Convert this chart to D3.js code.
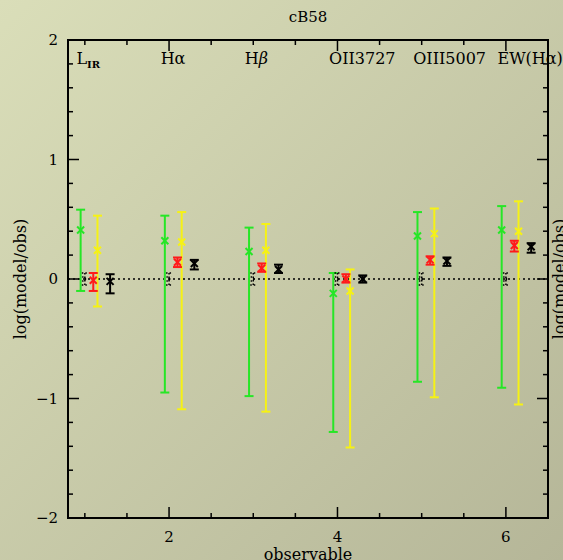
<!DOCTYPE html>
<html lang="en">
<head>
    <meta charset="utf-8">
    <title>cB58</title>
    <style>
        html, body { margin: 0; padding: 0; overflow: hidden; }
        svg { display: block; font-family: "DejaVu Serif", serif; }
    </style>
</head>
<body>
<svg id="chart" width="563" height="560"></svg>
<script src="https://d3js.org/d3.v7.min.js"></script>
<script>
    // observables along x
    const obsX = [1, 2, 3, 4, 5, 6];
    const obsNames = ["L_IR", "Hα", "Hβ", "OII3727", "OIII5007", "EW(Hα)"];
    const xTicks = [2, 4, 6];
    const yTicks = [-2, -1, 0, 1, 2];

    // green series
    const greenVal = [0.41, 0.32, 0.23, -0.12, 0.36, 0.41];
    const greenLo  = [-0.10, -0.95, -0.98, -1.28, -0.86, -0.91];
    const greenHi  = [0.58, 0.53, 0.43, 0.05, 0.56, 0.61];
    // yellow series
    const yellowVal = [0.24, 0.31, 0.24, -0.10, 0.38, 0.40];
    const yellowLo  = [-0.23, -1.09, -1.11, -1.41, -0.99, -1.05];
    const yellowHi  = [0.53, 0.56, 0.46, 0.08, 0.59, 0.65];
    // red series
    const redVal = [-0.01, 0.14, 0.09, 0.00, 0.16, 0.28];
    const redLo  = [-0.10, 0.10, 0.06, -0.03, 0.12, 0.23];
    const redHi  = [0.05, 0.18, 0.13, 0.04, 0.19, 0.32];
    // black series
    const blackVal = [-0.02, 0.13, 0.08, 0.00, 0.15, 0.27];
    const blackLo  = [-0.12, 0.08, 0.05, -0.03, 0.11, 0.22];
    const blackHi  = [0.04, 0.16, 0.12, 0.03, 0.18, 0.30];
    // dotted (reference) series
    const dotVal = [0, 0, 0, 0, 0, 0];
    const dotLo  = [-0.05, -0.05, -0.05, -0.05, -0.05, -0.05];
    const dotHi  = [0.05, 0.05, 0.05, 0.05, 0.05, 0.05];

    const mLeft = 68, mRight = 548, mTop = 40, mBottom = 518;

    const svg = d3.select("#chart");

    // background gradient
    const defs = svg.append("defs");
    const grad = defs.append("linearGradient")
        .attr("id", "bg")
        .attr("x1", "0").attr("y1", "0")
        .attr("x2", "1").attr("y2", "1");
    grad.append("stop").attr("offset", "0").attr("stop-color", "#dadeb9");
    grad.append("stop").attr("offset", "1").attr("stop-color", "#b5b698");
    svg.append("rect").attr("width", 563).attr("height", 560).attr("fill", "url(#bg)");

    const x = d3.scaleLinear().domain([0.8, 6.5]).range([mLeft, mRight]);
    const y = d3.scaleLinear().domain([-2, 2]).range([mBottom, mTop]);

    // frame
    svg.append("rect")
        .attr("x", mLeft).attr("y", mTop)
        .attr("width", mRight - mLeft).attr("height", mBottom - mTop)
        .attr("fill", "none").attr("stroke", "#000").attr("stroke-width", 2);

    // inward ticks on all four sides
    const xMinor = d3.range(1, 6.5, 0.5);
    const yMinor = d3.range(-1.8, 2, 0.2).map(v => Math.round(v * 10) / 10);
    const tickG = svg.append("g").attr("stroke", "#000").attr("stroke-width", 1.5);
    xMinor.forEach(v => {
        const len = (v % 2 === 0) ? 11 : 5;
        tickG.append("line").attr("x1", x(v)).attr("x2", x(v)).attr("y1", mBottom).attr("y2", mBottom - len);
        tickG.append("line").attr("x1", x(v)).attr("x2", x(v)).attr("y1", mTop).attr("y2", mTop + len);
    });
    yMinor.forEach(v => {
        const len = (Math.abs(v % 1) < 1e-6) ? 11 : 5;
        tickG.append("line").attr("y1", y(v)).attr("y2", y(v)).attr("x1", mLeft).attr("x2", mLeft + len);
        tickG.append("line").attr("y1", y(v)).attr("y2", y(v)).attr("x1", mRight).attr("x2", mRight - len);
    });

    // tick labels
    svg.selectAll(".xl").data(xTicks).enter().append("text")
        .attr("x", d => x(d)).attr("y", mBottom + 24)
        .attr("text-anchor", "middle").attr("font-size", 15)
        .text(d => d);
    svg.selectAll(".yl").data(yTicks).enter().append("text")
        .attr("x", mLeft - 10).attr("y", d => y(d) + 5)
        .attr("text-anchor", "end").attr("font-size", 15)
        .text(d => d < 0 ? "\u2212" + Math.abs(d) : d);

    // titles
    svg.append("text").attr("x", (mLeft + mRight) / 2).attr("y", 22)
        .attr("text-anchor", "middle").attr("font-size", 15).text("cB58");
    svg.append("text").attr("x", (mLeft + mRight) / 2).attr("y", 560)
        .attr("text-anchor", "middle").attr("font-size", 16).text("observable");
    svg.append("text")
        .attr("transform", "translate(26," + y(0) + ") rotate(-90)")
        .attr("text-anchor", "middle").attr("font-size", 16).text("log(model/obs)");
    svg.append("text")
        .attr("transform", "translate(565," + y(0) + ") rotate(-90)")
        .attr("text-anchor", "middle").attr("font-size", 16).text("log(model/obs)");

    // observable names along top
    obsNames.forEach((n, i) => {
        const t = svg.append("text").attr("x", x(obsX[i] - 0.1)).attr("y", 64).attr("font-size", 16);
        if (n === "L_IR") {
            t.append("tspan").text("L");
            t.append("tspan").attr("font-size", 10).attr("font-weight", "bold").attr("dy", 4).text("IR");
        } else if (n === "Hβ") {
            t.append("tspan").text("H");
            t.append("tspan").attr("font-style", "italic").text("β");
        } else {
            t.text(n);
        }
    });

    // zero line
    svg.append("line")
        .attr("x1", mLeft).attr("x2", mRight).attr("y1", y(0)).attr("y2", y(0))
        .attr("stroke", "#000").attr("stroke-width", 1.5).attr("stroke-dasharray", "2,3");

    function drawSeries(vals, lo, hi, off, color, opts) {
        const g = svg.append("g").attr("stroke", color).attr("stroke-width", opts.width || 2);
        if (opts.dash) g.attr("stroke-dasharray", opts.dash);
        const cw = opts.cap || 4.5, m = opts.marker || 3.5;
        obsX.forEach((o, i) => {
            const cx = x(o + off);
            g.append("line").attr("x1", cx).attr("x2", cx).attr("y1", y(lo[i])).attr("y2", y(hi[i]));
            g.append("line").attr("x1", cx - cw).attr("x2", cx + cw).attr("y1", y(lo[i])).attr("y2", y(lo[i]));
            g.append("line").attr("x1", cx - cw).attr("x2", cx + cw).attr("y1", y(hi[i])).attr("y2", y(hi[i]));
            const cy = y(vals[i]);
            g.append("line").attr("x1", cx - m).attr("x2", cx + m).attr("y1", cy - m).attr("y2", cy + m);
            g.append("line").attr("x1", cx - m).attr("x2", cx + m).attr("y1", cy + m).attr("y2", cy - m);
        });
    }

    drawSeries(greenVal, greenLo, greenHi, -0.05, "#26e626", {});
    drawSeries(yellowVal, yellowLo, yellowHi, 0.15, "#f6f214", {});
    drawSeries(redVal, redLo, redHi, 0.10, "#ff1a1a", {});
    drawSeries(blackVal, blackLo, blackHi, 0.30, "#000", {});
    drawSeries(dotVal, dotLo, dotHi, 0.0, "#000", {width: 1.5, dash: "1.5,2", cap: 3, marker: 2.5});
</script>
</body>
</html>
